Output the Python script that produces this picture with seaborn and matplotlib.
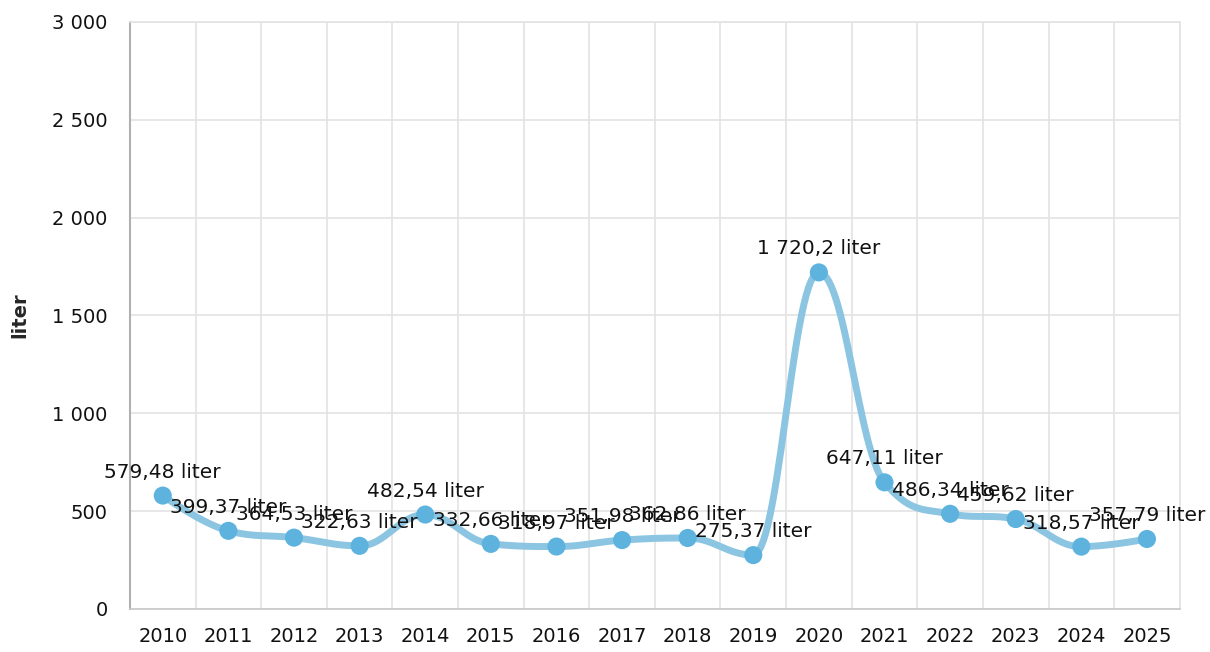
import numpy as np
import pandas as pd
import matplotlib
matplotlib.use("Agg")
import matplotlib.pyplot as plt
import seaborn as sns

years = ["2010", "2011", "2012", "2013", "2014", "2015", "2016", "2017",
         "2018", "2019", "2020", "2021", "2022", "2023", "2024", "2025"]
values = [579.48, 399.37, 364.53, 322.63, 482.54, 332.66, 318.97, 351.98,
          362.86, 275.37, 1720.2, 647.11, 486.34, 459.62, 318.57, 357.79]
yticks = [0, 500, 1000, 1500, 2000, 2500, 3000]
unit = "liter"

sns.set_style("white")
plt.rcParams["font.family"] = ["DejaVu Sans"]

df = pd.DataFrame({"year": years, "value": values, "x": np.arange(len(years))})

fig = plt.figure(figsize=(12.1, 6.52), dpi=100)
ax = fig.add_axes([0.1074, 0.066, 0.8676, 0.9003])


def fmt_num(v):
    s = f"{v:,.2f}".rstrip("0").rstrip(".")
    return s.replace(",", " ").replace(".", ",")


def spline_curve(xs, ys, smoothing=1.5, denom=2.5, n=30):
    """Highcharts-style spline rendering of the given points."""
    xs = list(xs); ys = list(ys)
    N = len(xs)
    left = [None] * N
    right = [None] * N
    for i in range(N):
        px, py = xs[i], ys[i]
        if 0 < i < N - 1:
            lx, ly = xs[i - 1], ys[i - 1]
            nx, ny = xs[i + 1], ys[i + 1]
            lcx = (smoothing * px + lx) / denom
            lcy = (smoothing * py + ly) / denom
            rcx = (smoothing * px + nx) / denom
            rcy = (smoothing * py + ny) / denom
            if rcx != lcx:
                corr = ((rcy - lcy) * (rcx - px)) / (rcx - lcx) + py - rcy
                lcy += corr
                rcy += corr
            if lcy > ly and lcy > py:
                lcy = max(ly, py); rcy = 2 * py - lcy
            elif lcy < ly and lcy < py:
                lcy = min(ly, py); rcy = 2 * py - lcy
            if rcy > ny and rcy > py:
                rcy = max(ny, py); lcy = 2 * py - rcy
            elif rcy < ny and rcy < py:
                rcy = min(ny, py); lcy = 2 * py - rcy
            left[i] = (lcx, lcy)
            right[i] = (rcx, rcy)
        else:
            left[i] = (px, py)
            right[i] = (px, py)
    cx, cy = [xs[0]], [ys[0]]
    t = np.linspace(0, 1, n)[1:]
    for i in range(1, N):
        p0 = np.array([xs[i - 1], ys[i - 1]])
        p1 = np.array(right[i - 1])
        p2 = np.array(left[i])
        p3 = np.array([xs[i], ys[i]])
        pts = (((1 - t) ** 3)[:, None] * p0 + (3 * (1 - t) ** 2 * t)[:, None] * p1
               + (3 * (1 - t) * t ** 2)[:, None] * p2 + (t ** 3)[:, None] * p3)
        cx.extend(pts[:, 0]); cy.extend(pts[:, 1])
    return np.array(cx), np.array(cy)


sx, sy = spline_curve(df["x"], df["value"])
ax.plot(sx, sy, color="#8cc5e2", lw=5, solid_capstyle="round", zorder=3)
sns.scatterplot(data=df, x="x", y="value", ax=ax, s=170, color="#5db3de",
                edgecolor="none", zorder=4, legend=False)

for xi, v in zip(df["x"], df["value"]):
    ax.annotate(f"{fmt_num(v)} {unit}", (xi, v), xytext=(0, 10),
                textcoords="offset points", ha="center", va="bottom",
                fontsize=14.5, color="#111111", zorder=5)

ax.set_xlim(-0.5, len(years) - 0.5)
ax.set_ylim(0, 3000)
ax.set_xticks(df["x"])
ax.set_xticklabels(years)
ax.set_xticks(np.arange(len(years) + 1) - 0.5, minor=True)
ax.set_yticks(yticks)
ax.set_yticklabels([fmt_num(v) for v in yticks])

ax.grid(False)
ax.grid(which="minor", axis="x", color="#e3e3e3", lw=1.2)
ax.grid(which="major", axis="y", color="#e3e3e3", lw=1.2)
ax.set_axisbelow(True)

for side in ["top", "right"]:
    ax.spines[side].set_color("#e3e3e3")
    ax.spines[side].set_linewidth(1.2)
ax.spines["left"].set_color("#b0b0b0")
ax.spines["bottom"].set_color("#c8c8c8")
ax.spines["left"].set_linewidth(1.5)
ax.spines["bottom"].set_linewidth(1.2)

ax.tick_params(axis="x", which="major", length=6, width=1.2, color="#c8c8c8",
               labelsize=14, pad=7, labelcolor="#111111")
ax.tick_params(axis="x", which="minor", length=0)
ax.tick_params(axis="y", length=6, width=1.2, color="#b0b0b0", labelsize=14,
               pad=10, labelcolor="#111111")

ax.set_xlabel("")
ax.set_ylabel(unit, fontsize=14, fontweight="bold")
ax.yaxis.set_label_coords(-0.096, 0.5)

fig.savefig("out.png", dpi=100)
